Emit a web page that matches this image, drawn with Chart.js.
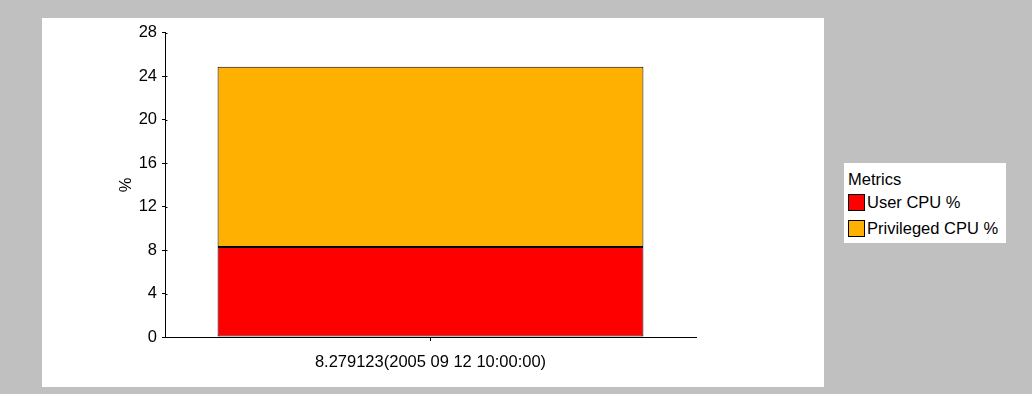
<!DOCTYPE html>
<html>
<head>
<meta charset="utf-8">
<title>CPU</title>
<script src="https://cdn.jsdelivr.net/npm/chart.js@4/dist/chart.umd.min.js"></script>
<style>
    body {
        margin: 0;
        width: 1032px;
        height: 394px;
        background: #c0c0c0;
        position: relative;
        overflow: hidden;
        font-family: "Liberation Sans", Arial, sans-serif;
    }
    #panel {
        position: absolute;
        left: 42px;
        top: 18px;
        width: 782px;
        height: 369px;
        background: #ffffff;
    }
    #legend {
        position: absolute;
        left: 844px;
        top: 163px;
        width: 162px;
        height: 80px;
        background: #ffffff;
        font-size: 16.5px;
        color: #000;
    }
    #legend .title {
        position: absolute;
        left: 4px;
        top: 6px;
        line-height: 20px;
    }
    #legend .row {
        position: absolute;
        left: 4px;
        height: 20px;
        line-height: 20px;
        white-space: nowrap;
    }
    #legend .swatch {
        display: inline-block;
        width: 15px;
        height: 15px;
        border: 1px solid #000;
        vertical-align: -3px;
        margin-right: 2px;
    }
</style>
</head>
<body>
<div id="panel"><canvas id="cpuChart" width="782" height="369"></canvas></div>
<div id="legend"></div>

<script>
// categorias e séries
const categories = ['8.279123(2005 09 12 10:00:00)'];
const seriesNames = ['User CPU %', 'Privileged CPU %'];
const userCpu = [8.279];
const privilegedCpu = [16.6];
const seriesColors = ['#ff0000', '#ffb000'];

// eixo Y: 0..28, marcas a cada 2, rótulos a cada 4
const yMin = 0;
const yMax = 28;
const yStep = 2;
const yLabelEvery = 4;

const FONT = { family: '"Liberation Sans", Arial, sans-serif', size: 16.5 };

// pequenas marcas do eixo Y também do lado de dentro
const innerTicks = {
    id: 'innerTicks',
    afterDraw: function(chart) {
        const y = chart.scales.y;
        const c = chart.ctx;
        const x = Math.round(y.right) + 0.5;
        c.save();
        c.strokeStyle = '#000';
        c.lineWidth = 1;
        c.beginPath();
        y.ticks.forEach(function(t) {
            const py = Math.round(y.getPixelForValue(t.value)) + 0.5;
            c.moveTo(x, py);
            c.lineTo(x + 2, py);
        });
        c.stroke();
        c.restore();
    }
};

const ctx = document.getElementById('cpuChart');

const chart = new Chart(ctx, {
    type: 'bar',
    data: {
        labels: categories,
        datasets: [
            {
                label: seriesNames[0],
                data: userCpu,
                backgroundColor: seriesColors[0],
                borderColor: '#000',
                borderWidth: 1,
                borderSkipped: false
            },
            {
                label: seriesNames[1],
                data: privilegedCpu,
                backgroundColor: seriesColors[1],
                borderColor: '#000',
                borderWidth: 1,
                borderSkipped: false
            }
        ]
    },
    options: {
        responsive: false,
        animation: false,
        datasets: {
            bar: {
                barPercentage: 1,
                categoryPercentage: 0.802
            }
        },
        layout: {
            padding: { left: 75, top: 14, right: 128, bottom: 0 }
        },
        plugins: {
            legend: { display: false },
            tooltip: { enabled: false }
        },
        scales: {
            x: {
                stacked: true,
                border: { display: true, color: '#000', width: 1 },
                grid: {
                    offset: false,
                    drawOnChartArea: false,
                    tickLength: 4,
                    color: '#000'
                },
                ticks: {
                    color: '#000',
                    font: FONT,
                    padding: 12
                },
                afterFit: function(scale) {
                    scale.height = 50;
                }
            },
            y: {
                stacked: true,
                min: yMin,
                max: yMax,
                border: { display: true, color: '#000', width: 1 },
                grid: {
                    drawOnChartArea: false,
                    tickLength: 3,
                    color: '#000'
                },
                ticks: {
                    stepSize: yStep,
                    color: '#000',
                    font: FONT,
                    padding: 5,
                    callback: function(value) {
                        return value % yLabelEvery === 0 ? value : '';
                    }
                },
                title: {
                    display: true,
                    text: '%',
                    color: '#000',
                    font: FONT,
                    padding: 0
                },
                afterFit: function(scale) {
                    scale.width = 48;
                }
            }
        }
    },
    plugins: [innerTicks]
});

// legenda em HTML, montada a partir dos datasets
const legendEl = document.getElementById('legend');
const titleEl = document.createElement('div');
titleEl.className = 'title';
titleEl.textContent = 'Metrics';
legendEl.appendChild(titleEl);

chart.data.datasets.forEach(function(ds, i) {
    const row = document.createElement('div');
    row.className = 'row';
    row.style.top = (29 + i * 26) + 'px';
    const sw = document.createElement('span');
    sw.className = 'swatch';
    sw.style.background = ds.backgroundColor;
    row.appendChild(sw);
    row.appendChild(document.createTextNode(ds.label));
    legendEl.appendChild(row);
});
</script>
</body>
</html>
